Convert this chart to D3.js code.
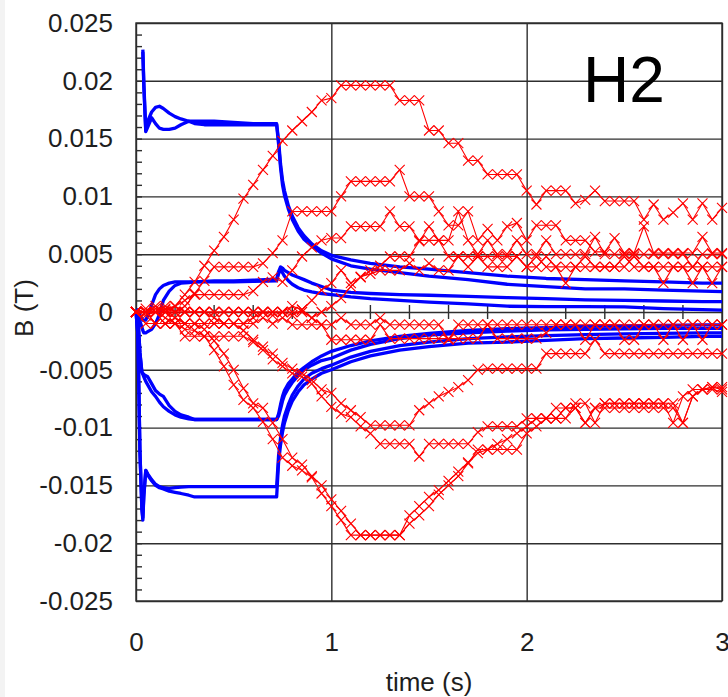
<!DOCTYPE html>
<html>
<head>
<meta charset="utf-8">
<script src="https://cdn.jsdelivr.net/npm/d3@7"></script>
<style>
body { margin: 0; background: #fff; }
svg { display: block; font-family: "Liberation Sans", Arial, sans-serif; }
.grid line { stroke: #2e2e2e; stroke-width: 1.4; }
.grid path { display: none; }
</style>
</head>
<body>
<svg width="728" height="697"></svg>
<script>
// simulated field (blue), time in s, B in mT
var tBlue = [0, 0.01, 0.02, 0.03, 0.035, 0.04, 0.05, 0.06, 0.08, 0.1,
    0.12, 0.14, 0.17, 0.2, 0.23, 0.27, 0.3, 0.35, 0.4, 0.5,
    0.6, 0.72, 0.73, 0.74, 0.75, 0.76, 0.78, 0.8, 0.83, 0.86,
    0.9, 0.95, 1.0, 1.1, 1.2, 1.35, 1.5, 1.7, 1.9, 2.1,
    2.3, 2.5, 2.7, 2.9, 3.0];

var simA1 = [null, null, null, null, 22.7, 19.9, 15.7, 16.5, 17.3, 17.7,
    17.8, 17.6, 17.2, 16.9, 16.7, 16.5, 16.5, 16.5, 16.5, 16.4,
    16.3, 16.3, 14.8, 12.8, 11.4, 10.5, 9.2, 8.3, 7.3, 6.6,
    5.9, 5.3, 4.9, 4.5, 4.2, 3.9, 3.7, 3.4, 3.1, 2.9,
    2.8, 2.7, 2.6, 2.5, 2.5];
var simA2 = [null, null, null, null, 22.5, 19.5, 15.6, 16.0, 16.8, 16.3,
    15.9, 15.8, 15.8, 15.9, 16.2, 16.5, 16.3, 16.2, 16.2, 16.2,
    16.2, 16.2, 14.5, 12.5, 11.0, 10.1, 8.9, 8.0, 7.0, 6.3,
    5.7, 5.1, 4.6, 4.0, 3.7, 3.4, 3.1, 2.8, 2.4, 2.2,
    2.0, 2.0, 1.9, 1.8, 1.76];
var simB1 = [0, 0.2, -0.3, -0.6, -0.7, -0.7, -0.7, -0.3, 0.6, 1.5,
    2.0, 2.3, 2.5, 2.6, 2.6, 2.6, 2.6, 2.65, 2.7, 2.7,
    2.75, 2.85, 3.5, 3.9, 3.8, 3.6, 3.4, 3.2, 3.0, 2.8,
    2.5, 2.2, 1.9, 1.7, 1.6, 1.5, 1.45, 1.35, 1.25, 1.15,
    1.05, 1.0, 0.95, 0.9, 0.89];
var simB2 = [0, 0, -0.8, -1.3, -1.6, -1.8, -1.8, -1.7, -1.5, -1.0,
    -0.2, 1.0, 1.8, 2.3, 2.5, 2.55, 2.6, 2.6, 2.6, 2.6,
    2.65, 2.7, 3.3, 3.7, 3.4, 3.1, 2.7, 2.4, 2.1, 1.9,
    1.75, 1.6, 1.5, 1.3, 1.15, 1.0, 0.85, 0.7, 0.5, 0.46,
    0.46, 0.45, 0.3, 0.2, 0.17];
var simC1 = [0, -0.5, -3.5, -5.2, -5.3, -5.4, -5.5, -5.6, -6.2, -6.8,
    -7.1, -7.3, -8.1, -8.6, -8.9, -9.1, -9.3, -9.3, -9.3, -9.3,
    -9.3, -9.3, -8.8, -8.0, -7.3, -6.8, -6.2, -5.8, -5.2, -4.8,
    -4.3, -3.8, -3.4, -2.9, -2.5, -2.1, -1.85, -1.6, -1.45, -1.35,
    -1.25, -1.2, -1.15, -1.12, -1.12];
var simC2 = [0, -0.5, -3.5, -5.2, -5.4, -5.6, -6.0, -6.3, -6.9, -7.3,
    -7.8, -8.2, -8.6, -8.9, -9.1, -9.25, -9.3, -9.3, -9.3, -9.3,
    -9.3, -9.3, -9.0, -8.4, -7.7, -7.2, -6.6, -6.1, -5.5, -5.0,
    -4.6, -4.2, -4.0, -3.3, -2.8, -2.3, -2.0, -1.8, -1.65, -1.55,
    -1.5, -1.45, -1.42, -1.41, -1.41];
var simD1 = [0, -2, -12, -17, -18, -16, -13.7, -14.1, -14.6, -15.0,
    -15.2, -15.3, -15.5, -15.6, -15.7, -15.85, -16.0, -16.0, -16.0, -16.0,
    -16.0, -16.0, -13.0, -11.5, -10.4, -9.6, -8.5, -7.7, -6.9, -6.3,
    -5.8, -5.3, -5.0, -4.3, -3.8, -3.3, -3.0, -2.7, -2.6, -2.45,
    -2.3, -2.25, -2.2, -2.1, -2.1];
var simD2 = [0, -2, -12, -17, -17.8, -15.8, -13.7, -14.0, -14.5, -14.9,
    -15.1, -15.2, -15.25, -15.2, -15.15, -15.1, -15.1, -15.1, -15.1, -15.1,
    -15.1, -15.1, -12.4, -10.9, -9.8, -9.0, -8.0, -7.2, -6.4, -5.8,
    -5.3, -4.9, -4.6, -3.9, -3.4, -2.9, -2.6, -2.3, -2.15, -2.05,
    -1.95, -1.9, -1.85, -1.8, -1.8];

// measured field (red), sampled every 0.05 s, mT
var tRed = [0, 0.05, 0.1, 0.15, 0.2, 0.25, 0.3, 0.35, 0.4, 0.45,
    0.5, 0.55, 0.6, 0.65, 0.7, 0.75, 0.8, 0.85, 0.9, 0.95,
    1.0, 1.05, 1.1, 1.15, 1.2, 1.25, 1.3, 1.35, 1.4, 1.45,
    1.5, 1.55, 1.6, 1.65, 1.7, 1.75, 1.8, 1.85, 1.9, 1.95,
    2.0, 2.05, 2.1, 2.15, 2.2, 2.25, 2.3, 2.35, 2.4, 2.45,
    2.5, 2.55, 2.6, 2.65, 2.7, 2.75, 2.8, 2.85, 2.9, 2.95, 3.0];

var meas1 = [0, 0, 0.3, 0.2, 0.5, 1.5, 2.6, 4.0, 5.3, 6.5,
    8.0, 9.8, 11.0, 12.3, 13.5, 14.8, 15.7, 16.5, 17.3, 18.3,
    18.5, 19.6, 19.6, 19.6, 19.6, 19.6, 19.6, 18.3, 18.3, 18.3,
    15.7, 15.7, 14.6, 14.6, 13.1, 13.1, 11.9, 11.9, 11.9, 11.9,
    10.5, 9.3, 10.5, 10.5, 10.5, 9.4, 9.7, 10.5, 9.6, 9.6,
    9.6, 9.6, 8.0, 9.3, 8.0, 8.6, 9.4, 8.0, 9.4, 8.0, 9.0];
var meas2 = [0, 0, 0, 0.3, 0.5, 1.0, 1.6, 2.7, 3.9, 3.9,
    3.9, 3.9, 3.9, 4.2, 5.1, 6.2, 8.7, 8.7, 8.7, 8.7,
    8.7, 10.0, 11.3, 11.3, 11.3, 11.3, 11.3, 12.3, 10.0, 10.0,
    10.0, 8.7, 7.5, 7.5, 8.7, 6.2, 7.2, 6.2, 7.4, 7.7,
    6.2, 7.5, 7.5, 7.5, 6.2, 6.2, 6.2, 5.2, 5.2, 6.4,
    5.1, 5.1, 7.4, 5.1, 5.1, 5.1, 5.1, 5.1, 6.5, 5.1, 5.1];
var meas3 = [0, 0.3, 0, 0.5, 0, 0.5, 1.5, 1.5, 1.5, 1.5,
    1.5, 1.5, 1.8, 2.6, 3.0, 2.6, 3.6, 4.8, 5.6, 6.2,
    6.4, 6.4, 7.4, 7.4, 7.4, 7.4, 8.7, 7.4, 7.4, 6.2,
    6.2, 6.2, 6.2, 8.7, 6.2, 5.0, 6.2, 5.0, 5.0, 6.2,
    5.0, 5.0, 6.2, 5.0, 5.0, 5.0, 5.0, 6.5, 5.0, 5.0,
    5.0, 5.0, 5.0, 5.0, 5.0, 5.0, 5.0, 3.9, 5.0, 5.0, 5.0];
var meas4 = [0, -0.3, 0, 0, 0, 0, 0, 0, 0, 0,
    0, 0, 0, 0, 0, 0, -0.3, 0.2, 1.0, 1.9,
    2.5, 3.6, 2.5, 3.0, 3.6, 4.0, 4.8, 4.8, 4.8, 6.1,
    7.4, 6.2, 4.8, 4.8, 4.8, 4.8, 4.8, 4.8, 4.8, 4.8,
    3.9, 4.8, 3.9, 3.9, 2.5, 3.9, 4.8, 3.9, 3.9, 3.9,
    3.9, 4.8, 3.9, 3.9, 2.5, 3.9, 3.9, 2.5, 3.9, 3.9, 3.9];
var meas5 = [0, 0, -1.0, -1.0, -0.5, -1.0, -1.0, -1.0, -1.0, -1.0,
    -1.0, -1.0, -0.5, 0, -0.3, 0, 0.5, 0.2, -0.5, 0,
    0.5, 1.2, 2.2, 3.05, 3.3, 3.6, 3.6, 3.6, 4.2, 3.6,
    4.2, 3.6, 3.6, 4.8, 3.9, 4.8, 3.9, 3.9, 3.9, 4.8,
    3.9, 3.9, 4.8, 3.9, 3.9, 3.9, 3.9, 3.9, 3.9, 3.9,
    4.8, 3.9, 3.9, 3.9, 3.9, 3.9, 3.9, 3.9, 3.9, 2.5, 3.9];
var meas6 = [0, 0, 0, -0.5, -1.0, -1.5, -1.6, -2.1, -3.3, -4.7,
    -6.3, -7.6, -8.3, -9.5, -11.0, -12.6, -13.3, -13.7, -14.3, -15.7,
    -16.8, -18.0, -19.3, -19.3, -19.3, -19.3, -19.3, -19.3, -17.6, -16.8,
    -16.0, -15.4, -14.6, -13.8, -13.0, -12.2, -11.9, -11.4, -11.0, -10.5,
    -9.9, -9.2, -9.2, -9.2, -9.2, -7.9, -7.9, -9.6, -7.9, -7.9,
    -7.9, -7.9, -7.9, -7.9, -7.9, -9.6, -7.3, -6.7, -6.7, -6.5, -6.7];
var meas7 = [0, 0, 0, 0, -0.5, -1.0, -1.0, -1.5, -2.5, -3.6,
    -5.0, -6.6, -7.9, -8.3, -9.6, -11.0, -12.6, -13.2, -14.2, -15.0,
    -16.2, -17.2, -18.3, -19.3, -19.3, -19.3, -19.3, -19.3, -18.3, -17.6,
    -16.8, -15.8, -15.0, -14.2, -13.1, -11.9, -11.9, -11.9, -11.9, -11.9,
    -10.5, -9.9, -9.2, -8.3, -8.3, -8.3, -9.6, -8.3, -8.3, -8.3,
    -8.3, -8.3, -8.3, -8.3, -8.3, -8.3, -9.6, -7.3, -6.7, -6.5, -6.5];
var meas8 = [0, 0, 0.5, 0, 0.5, 0, 0, 0, -0.5, -1.0,
    -1.0, -1.6, -2.4, -3.0, -4.1, -4.7, -5.3, -5.6, -6.2, -7.3,
    -8.2, -8.8, -9.1, -9.9, -10.5, -11.4, -11.4, -11.4, -11.4, -12.5,
    -11.4, -11.4, -11.4, -11.4, -11.4, -10.4, -9.9, -9.9, -9.9, -9.9,
    -9.2, -9.2, -9.2, -9.2, -8.3, -8.3, -9.6, -8.3, -7.9, -7.9,
    -7.9, -7.9, -7.9, -7.9, -7.9, -7.9, -9.6, -7.3, -6.7, -6.7, -6.9];
var meas9 = [0, -1.0, -1.0, -1.0, -1.0, -2.1, -2.1, -2.1, -2.1, -2.1,
    -2.1, -2.1, -2.6, -3.3, -3.6, -4.4, -4.9, -5.3, -5.9, -6.7,
    -7.0, -7.9, -8.5, -9.1, -9.8, -9.8, -9.8, -9.8, -9.8, -8.5,
    -7.9, -7.3, -6.9, -6.5, -5.9, -5.0, -4.9, -4.9, -4.9, -4.9,
    -4.9, -4.9, -3.6, -3.6, -3.6, -3.6, -3.6, -2.4, -3.6, -3.6,
    -3.6, -3.6, -3.6, -3.6, -3.6, -3.6, -3.6, -3.6, -3.6, -3.6, -3.6];
var meas10 = [0, 0, -1.0, -1.0, -1.0, -1.0, -1.0, -1.0, -1.0, -1.0,
    -1.0, -1.0, -1.0, -0.5, -1.0, -0.5, -1.1, -1.1, -1.1, -1.1,
    -2.4, -2.4, -2.4, -2.4, -2.4, -1.1, -2.3, -2.3, -2.3, -2.3,
    -2.3, -2.3, -2.3, -2.3, -2.3, -2.3, -1.1, -2.3, -2.3, -2.3,
    -2.3, -2.3, -1.8, -1.1, -1.1, -1.1, -1.1, -1.1, -1.1, -1.1,
    -2.4, -2.4, -1.1, -1.1, -1.1, -1.1, -2.4, -1.1, -2.4, -1.1, -1.1];
var meas11 = [0, 0, 0, 0, 0, 0, 0, 0, 0, 0,
    0, 0, 0, 0, 0, 0, 0, 0, -0.5, -1.1,
    -1.1, -0.5, -1.1, -1.1, -1.1, -0.5, -1.1, -1.1, -1.1, -1.1,
    -1.1, -1.1, -2.4, -1.1, -1.1, -1.1, -1.1, -1.1, -1.1, -1.1,
    -1.1, -1.1, -1.1, -1.1, -1.1, -1.1, -2.4, -1.1, -1.1, -1.1,
    -1.1, -1.1, -1.1, -1.1, -2.4, -1.1, -1.1, -1.1, -1.1, -1.1, -1.1];

var simSeries = [simA1, simA2, simB1, simB2, simC1, simC2, simD1, simD2];
var measSeries = [meas1, meas2, meas3, meas4, meas5, meas6, meas7, meas8, meas9, meas10, meas11];

// axes
var yTicks = [25, 20, 15, 10, 5, 0, -5, -10, -15, -20, -25];
var yTickLabels = ["0.025", "0.02", "0.015", "0.01", "0.005", "0", "-0.005", "-0.01", "-0.015", "-0.02", "-0.025"];
var xTicks = [0, 1, 2, 3];
var xTickLabels = ["0", "1", "2", "3"];

var svg = d3.select("svg");
var x = d3.scaleLinear().domain([0, 3]).range([136, 722]);
var y = d3.scaleLinear().domain([-25, 25]).range([601, 23]);
var plotW = x.range()[1] - x.range()[0];
var plotH = y.range()[0] - y.range()[1];

svg.append("rect").attr("x", 0).attr("y", 0).attr("width", 728).attr("height", 697).attr("fill", "#fff");
svg.append("rect").attr("x", 0).attr("y", 0).attr("width", 5).attr("height", 697).attr("fill", "#f3f3f3");

// grid
svg.append("g").attr("class", "grid")
    .attr("transform", "translate(136,0)")
    .call(d3.axisLeft(y).tickValues(yTicks).tickSize(-plotW).tickFormat(""));
svg.append("g").attr("class", "grid")
    .attr("transform", "translate(0,601)")
    .call(d3.axisBottom(x).tickValues(xTicks).tickSize(-plotH).tickFormat(""));
svg.append("rect")
    .attr("x", 136).attr("y", 23).attr("width", plotW).attr("height", plotH)
    .attr("fill", "none").attr("stroke", "#2e2e2e").attr("stroke-width", 1.4);

// minor ticks, left axis every 1 mT
svg.append("g").attr("class", "grid")
    .attr("transform", "translate(136,0)")
    .call(d3.axisLeft(y).tickValues(d3.range(-24, 25, 1)).tickSize(-6).tickFormat(""));

// minor ticks on the zero line every 0.2 s
var minorX = d3.range(1, 15).map(d => d * 0.2).filter(d => Math.abs(d - Math.round(d)) > 0.01);
svg.append("g").selectAll("line").data(minorX).enter().append("line")
    .attr("x1", d => x(d)).attr("x2", d => x(d))
    .attr("y1", y(0) - 7).attr("y2", y(0) + 7)
    .attr("stroke", "#2e2e2e").attr("stroke-width", 1.4);

// tick labels
var yAxis = svg.append("g")
    .attr("transform", "translate(136,0)")
    .call(d3.axisLeft(y).tickValues(yTicks).tickSize(0).tickPadding(23)
        .tickFormat((d, i) => yTickLabels[i]));
yAxis.select(".domain").remove();
yAxis.selectAll("text").attr("font-size", 26).attr("fill", "#1e1e1e")
    .attr("font-family", "Liberation Sans, Arial, sans-serif");

var xAxis = svg.append("g")
    .attr("transform", "translate(0,601)")
    .call(d3.axisBottom(x).tickValues(xTicks).tickSize(0).tickPadding(32)
        .tickFormat((d, i) => xTickLabels[i]));
xAxis.select(".domain").remove();
xAxis.selectAll("text").attr("font-size", 26).attr("fill", "#1e1e1e")
    .attr("font-family", "Liberation Sans, Arial, sans-serif");

// simulated curves
var simLine = d3.line()
    .defined(d => d != null)
    .x((d, i) => x(tBlue[i]))
    .y(d => y(d));
svg.append("g").selectAll("path").data(simSeries).enter().append("path")
    .attr("d", simLine)
    .attr("fill", "none")
    .attr("stroke", "#0000ff")
    .attr("stroke-width", 3.3)
    .attr("stroke-linejoin", "round");

// measured curves with x markers
var measLine = d3.line()
    .x((d, i) => x(tRed[i]))
    .y(d => y(d));
var cross = "M-5,-5L5,5M-5,5L5,-5";
var measG = svg.append("g").selectAll("g").data(measSeries).enter().append("g");
measG.append("path")
    .attr("d", measLine)
    .attr("fill", "none")
    .attr("stroke", "#ff0000")
    .attr("stroke-width", 1.1);
measG.selectAll(".mk").data(d => d).enter().append("path")
    .attr("class", "mk")
    .attr("transform", (d, i) => "translate(" + x(tRed[i]) + "," + y(d) + ")")
    .attr("d", cross)
    .attr("fill", "none")
    .attr("stroke", "#ff0000")
    .attr("stroke-width", 1.1);

// labels
svg.append("text")
    .attr("x", 583).attr("y", 102)
    .attr("font-size", 64)
    .attr("fill", "#000")
    .text("H2");
svg.append("text")
    .attr("x", (x.range()[0] + x.range()[1]) / 2).attr("y", 691)
    .attr("text-anchor", "middle")
    .attr("font-size", 26)
    .attr("fill", "#1e1e1e")
    .text("time (s)");
svg.append("text")
    .attr("transform", "translate(33,308) rotate(-90)")
    .attr("text-anchor", "middle")
    .attr("font-size", 26)
    .attr("fill", "#1e1e1e")
    .text("B (T)");
</script>
</body>
</html>
